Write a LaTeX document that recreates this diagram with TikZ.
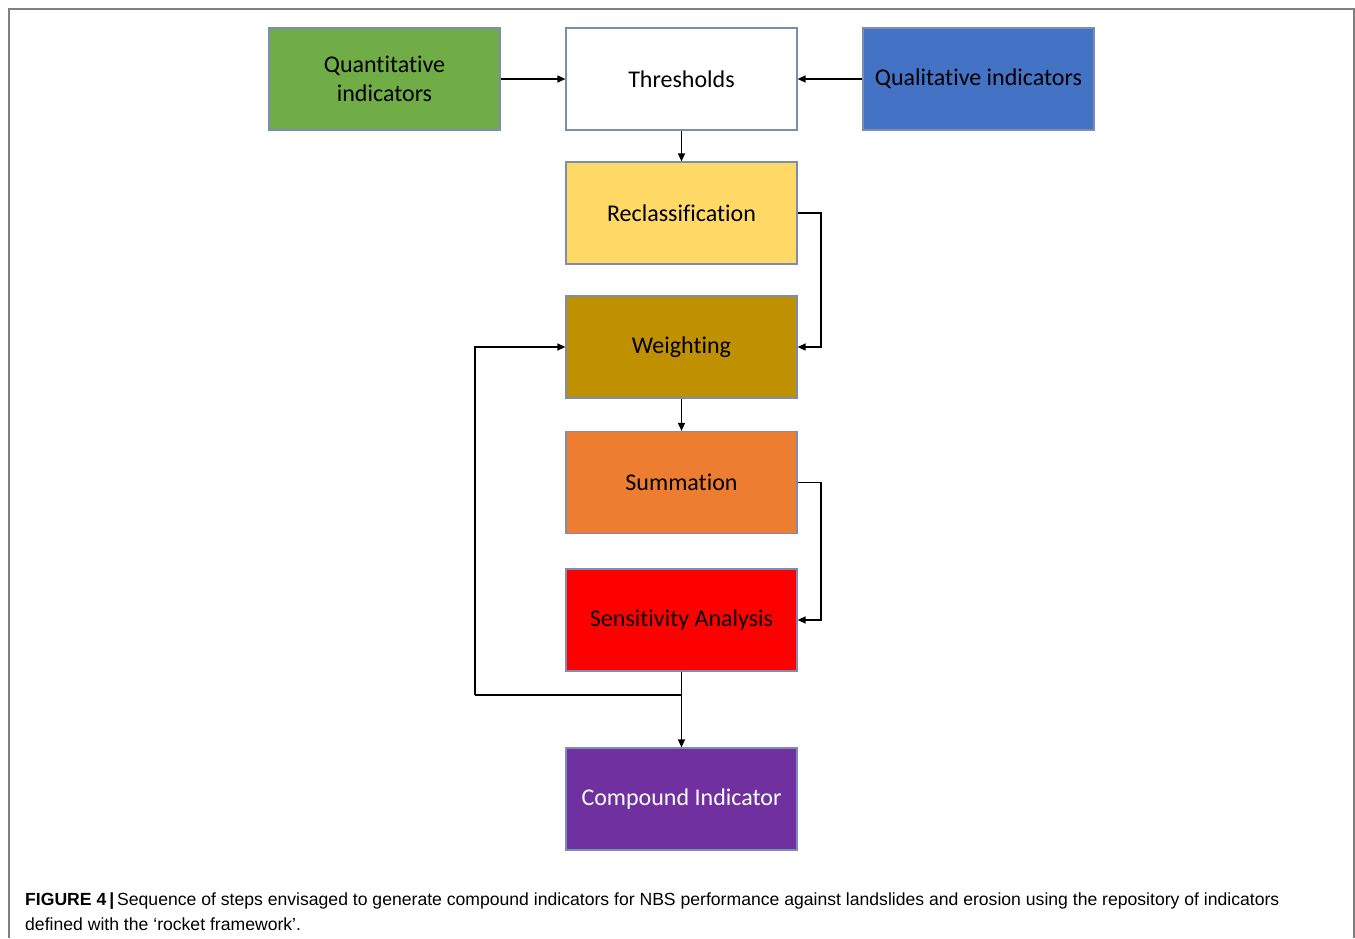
\documentclass[tikz,border=0pt]{standalone}
\usepackage{fontspec}
\setmainfont{Carlito}[Ligatures=NoCommon]
\newfontfamily\capfont{Liberation Sans}
\usetikzlibrary{arrows.meta}
\definecolor{boxline}{HTML}{7C8DB5}
\definecolor{cgreen}{HTML}{70AD47}
\definecolor{cblue}{HTML}{4472C4}
\definecolor{cyellow}{HTML}{FFD966}
\definecolor{cgold}{HTML}{BF9000}
\definecolor{corange}{HTML}{ED7D31}
\definecolor{cred}{HTML}{FF0000}
\definecolor{cpurple}{HTML}{7030A0}
\definecolor{frameline}{HTML}{7F7F7F}
\tikzset{
  stepbox/.style={draw=boxline, line width=1.2pt, minimum width=231pt, minimum height=102pt,
    inner sep=0pt, align=center, font=\fontsize{24}{29}\selectfont},
  conn/.style={line width=1.4pt, -{Triangle[length=8pt,width=7pt]}},
  plain/.style={line width=1.4pt},
}
\begin{document}
\begin{tikzpicture}[x=1pt,y=-1pt]
\useasboundingbox (0,0) rectangle (1355,938);
\draw[frameline, line width=1.6pt] (9,938) -- (9,9) -- (1354,9) -- (1354,938);

\node[stepbox, fill=cgreen] (quant) at (384.5,79) {Quantitative\\indicators};
\node[stepbox, fill=white] (thr) at (681.5,79) {Thresholds};
\node[stepbox, fill=cblue] (qual) at (978.5,79) {Qualitative indicators};
\node[stepbox, fill=cyellow] (recl) at (681.5,213) {Reclassification};
\node[stepbox, fill=cgold] (wgt) at (681.5,347) {Weighting};
\node[stepbox, fill=corange] (sum) at (681.5,482.5) {Summation};
\node[stepbox, fill=cred] (sens) at (681.5,620) {Sensitivity Analysis};
\node[stepbox, fill=cpurple, text=white] (comp) at (681.5,799) {Compound Indicator};

\coordinate (j) at (681.5,695);
\coordinate (jl) at (475,695);
\coordinate (rr) at (821,0);

\draw[conn] (quant.east) -- (thr.west);
\draw[conn] (qual.west) -- (thr.east);
\draw[conn] (thr.south) -- (recl.north);
\draw[conn] (recl.east) -- (recl.east -| rr) -- (wgt.east -| rr) -- (wgt.east);
\draw[conn] (wgt.south) -- (sum.north);
\draw[conn] (sum.east) -- (sum.east -| rr) -- (sens.east -| rr) -- (sens.east);
\draw[conn] (sens.south) -- (comp.north);
\draw[plain] (j) -- (jl);
\draw[conn] (jl) -- (wgt.west -| jl) -- (wgt.west);

\node[anchor=base west, inner sep=0pt, font=\capfont\fontsize{17.6}{21}\selectfont] (cap1) at (25,905)
  {\textbf{FIGURE 4\,|}\,Sequence of steps envisaged to generate compound indicators for NBS performance against landslides and erosion using the repository of indicators};
\node[anchor=base west, inner sep=0pt, font=\capfont\fontsize{17.6}{21}\selectfont] (cap2) at (25,930)
  {defined with the ‘rocket framework’.};
\end{tikzpicture}
\end{document}
